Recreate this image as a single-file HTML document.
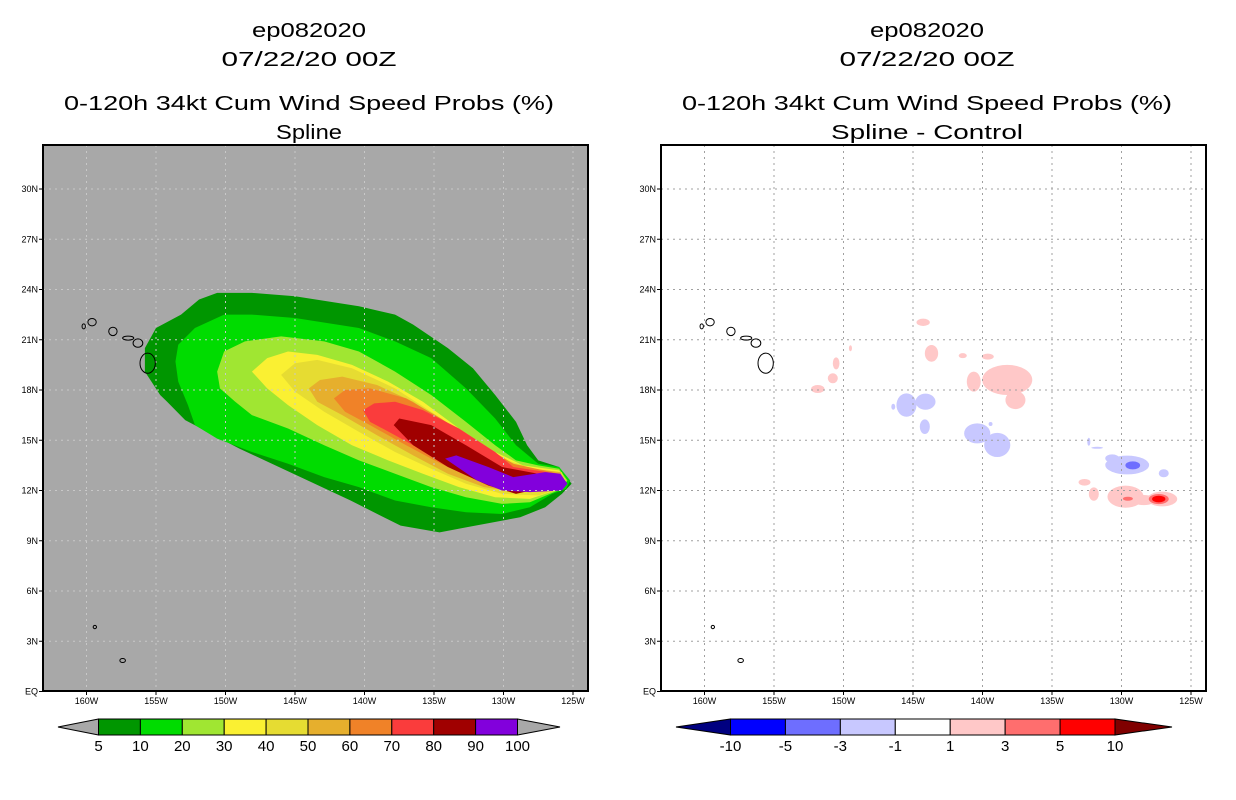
<!DOCTYPE html>
<html><head><meta charset="utf-8">
<style>
html,body{margin:0;padding:0;background:#fff;}
svg{display:block;font-family:"Liberation Sans",sans-serif;}
</style></head>
<body>
<svg id="chart" width="1236" height="800" viewBox="0 0 1236 800" xmlns="http://www.w3.org/2000/svg">
  <rect width="1236" height="800" fill="#fff"/>
  <g font-size="20" text-anchor="middle" fill="#000">
    <text x="309" y="37" textLength="114" lengthAdjust="spacingAndGlyphs">ep082020</text>
    <text x="309" y="66" textLength="175" lengthAdjust="spacingAndGlyphs">07/22/20 00Z</text>
    <text x="309" y="110" textLength="490" lengthAdjust="spacingAndGlyphs">0-120h 34kt Cum Wind Speed Probs (%)</text>
    <text x="309" y="139" textLength="66" lengthAdjust="spacingAndGlyphs">Spline</text>
  </g>
  <g font-size="20" text-anchor="middle" fill="#000">
    <text x="927" y="37" textLength="114" lengthAdjust="spacingAndGlyphs">ep082020</text>
    <text x="927" y="66" textLength="175" lengthAdjust="spacingAndGlyphs">07/22/20 00Z</text>
    <text x="927" y="110" textLength="490" lengthAdjust="spacingAndGlyphs">0-120h 34kt Cum Wind Speed Probs (%)</text>
    <text x="927" y="139" textLength="192" lengthAdjust="spacingAndGlyphs">Spline - Control</text>
  </g>
  <g id="leftPanel"></g>
  <g id="rightPanel"></g>
  <g id="leftBar"></g>
  <g id="rightBar"></g>
</svg>
<script>
const lonTicks = [-160,-155,-150,-145,-140,-135,-130,-125];
const lonTickLabels = ["160W","155W","150W","145W","140W","135W","130W","125W"];
const latTicks = [0,3,6,9,12,15,18,21,24,27,30];
const latTickLabels = ["EQ","3N","6N","9N","12N","15N","18N","21N","24N","27N","30N"];

const probLevels = [5,10,20,30,40,50,60,70,80,90];
const probColors = ["#009600","#00dc00","#a0e632","#faf032","#e6dc32","#e6af2d","#f08228","#fa3c3c","#a00000","#8200dc"];
const probLabels = ["5","10","20","30","40","50","60","70","80","90","100"];

const c5 = [[-155.8,20.5],[-155.0,21.7],[-153.2,22.5],[-151.9,23.4],[-150.6,23.8],[-148.1,23.8],[-145.0,23.6],[-140.4,23.0],[-137.8,22.5],[-136.5,21.9],[-134.0,20.5],[-132.2,19.3],[-130.6,17.7],[-129.1,16.1],[-128.3,14.7],[-127.5,13.8],[-126.0,13.4],[-125.1,12.4],[-125.8,11.8],[-127.0,11.0],[-128.8,10.4],[-132.7,9.8],[-134.6,9.5],[-137.4,9.9],[-141.0,11.4],[-144.6,12.8],[-149.0,14.5],[-152.9,16.2],[-154.2,17.3],[-154.7,17.7],[-155.8,19.1]];
const c10 = [[-153.4,20.7],[-152.2,21.7],[-150.1,22.5],[-148.1,22.5],[-145.0,22.3],[-140.4,21.7],[-137.8,20.9],[-135.2,19.9],[-132.7,18.1],[-130.6,16.3],[-129.1,14.7],[-127.5,13.6],[-126.0,13.4],[-125.2,12.6],[-125.5,12.1],[-126.5,11.8],[-128.1,11.0],[-130.1,10.6],[-132.7,10.7],[-135.2,11.0],[-137.8,11.4],[-140.4,12.2],[-142.9,12.8],[-145.5,13.6],[-148.1,14.3],[-150.6,15.1],[-152.2,15.9],[-152.7,17.1],[-153.4,18.5],[-153.6,19.7]];
const c20 = [[-150.6,19.1],[-150.1,20.3],[-148.6,20.9],[-146.0,21.2],[-142.9,20.9],[-140.4,20.3],[-137.8,19.1],[-135.2,17.7],[-132.7,16.1],[-130.6,14.7],[-129.1,13.8],[-127.5,13.5],[-126.0,13.3],[-125.4,12.6],[-125.8,12.1],[-128.1,11.3],[-130.1,11.2],[-132.7,11.6],[-135.2,12.2],[-137.8,13.0],[-140.4,13.8],[-142.9,14.7],[-145.5,15.7],[-148.1,16.5],[-149.3,17.3],[-150.4,18.1]];
const c30 = [[-148.1,19.1],[-147.0,19.9],[-145.5,20.3],[-143.4,20.1],[-140.9,19.5],[-138.3,18.5],[-135.8,17.3],[-133.2,15.7],[-130.6,14.3],[-128.6,13.5],[-126.0,13.2],[-125.5,12.6],[-125.9,12.1],[-128.1,11.5],[-130.6,11.6],[-133.2,12.2],[-135.8,13.0],[-138.3,13.8],[-140.9,14.7],[-143.4,15.9],[-145.5,17.1],[-147.0,18.1]];
const c40 = [[-146.0,18.9],[-145.0,19.6],[-143.4,19.8],[-140.9,19.3],[-137.8,18.1],[-135.2,16.7],[-132.7,15.3],[-130.1,13.9],[-127.5,13.2],[-125.8,13.1],[-125.6,12.6],[-126.0,12.1],[-127.5,11.7],[-130.1,11.8],[-132.7,12.4],[-135.2,13.3],[-137.8,14.3],[-140.4,15.5],[-142.9,16.7],[-145.0,17.9]];
const c50 = [[-144.0,18.1],[-143.2,18.6],[-141.6,18.8],[-139.1,18.3],[-136.5,17.3],[-134.0,15.9],[-131.4,14.5],[-128.8,13.4],[-125.9,13.1],[-125.8,12.6],[-126.1,12.2],[-128.8,11.9],[-131.4,12.2],[-134.0,13.0],[-136.5,14.1],[-139.1,15.3],[-141.6,16.5],[-143.4,17.3]];
const c60 = [[-142.2,17.5],[-141.4,18.0],[-139.6,18.1],[-137.0,17.5],[-134.5,16.3],[-131.9,14.9],[-129.3,13.6],[-126.0,13.0],[-125.9,12.6],[-126.3,12.2],[-129.3,12.1],[-131.9,12.6],[-134.5,13.6],[-137.0,14.7],[-139.6,15.9],[-141.4,16.7]];
const c70 = [[-140.1,16.8],[-139.3,17.2],[-137.8,17.3],[-135.8,16.8],[-133.2,15.7],[-130.6,14.3],[-129.3,13.4],[-126.1,13.0],[-126.0,12.6],[-126.4,12.2],[-130.1,12.2],[-132.7,13.0],[-135.2,14.1],[-137.8,15.3],[-139.6,16.1]];
const c80 = [[-137.9,15.9],[-137.5,16.3],[-135.2,15.9],[-132.7,14.7],[-130.1,13.4],[-127.5,13.0],[-126.3,13.0],[-126.1,12.6],[-126.5,12.3],[-129.1,11.8],[-131.1,12.3],[-134.0,13.4],[-136.5,14.7]];
const c90 = [[-134.2,13.9],[-133.4,14.1],[-131.1,13.4],[-129.3,12.8],[-127.0,13.1],[-125.9,13.0],[-125.4,12.4],[-125.8,12.0],[-128.1,11.9],[-130.1,12.0],[-131.9,12.6]];
const probContours = [c5,c10,c20,c30,c40,c50,c60,c70,c80,c90];

const islandLon = [-160.2,-159.6,-158.1,-157.0,-156.3,-155.6,-159.4,-157.4];
const islandLat = [21.8,22.05,21.5,21.1,20.8,19.6,3.85,1.85];
const islandRx = [0.12,0.3,0.3,0.4,0.35,0.55,0.12,0.2];
const islandRy = [0.15,0.22,0.25,0.12,0.25,0.6,0.1,0.12];

const diffLevels = [-10,-5,-3,-1,1,3,5,10];
const diffColors = ["#0000ff","#6e6eff","#c8c8ff","#ffffff","#ffc8c8","#ff6e6e","#ff0000"];
const diffLabels = ["-10","-5","-3","-1","1","3","5","10"];
const blobLon = [-144.27,-143.67,-141.42,-139.62,-138.22,-137.63,-140.63,-150.53,-150.77,-151.85,-149.5,-132.66,-131.99,-129.71,-127.07,-128.4,-145.47,-144.1,-144.15,-140.38,-138.94,-139.42,-146.42,-129.59,-130.67,-126.96,-132.35,-131.75,-129.19,-129.54,-127.32,-127.32];
const blobLat = [22.04,20.19,20.05,19.99,18.6,17.4,18.5,19.59,18.7,18.06,20.49,12.49,11.79,11.63,11.49,11.43,17.1,17.3,15.81,15.41,14.72,15.97,17.0,13.52,13.92,13.03,14.91,14.55,13.5,11.51,11.49,11.49];
const blobRx = [0.48,0.48,0.29,0.43,1.8,0.72,0.5,0.24,0.36,0.48,0.11,0.43,0.36,1.3,1.08,0.86,0.72,0.72,0.36,0.94,0.94,0.14,0.14,1.58,0.5,0.36,0.11,0.43,0.53,0.36,0.72,0.48];
const blobRy = [0.22,0.5,0.15,0.18,0.9,0.54,0.6,0.36,0.3,0.24,0.18,0.2,0.4,0.66,0.44,0.3,0.7,0.48,0.44,0.6,0.72,0.12,0.18,0.56,0.24,0.24,0.24,0.06,0.24,0.12,0.3,0.2];
const blobValue = [2,2,2,2,2,2,2,2,2,2,2,2,2,2,2,2,-2,-2,-2,-2,-2,-2,-2,-2,-2,-2,-2,-2,-4,4,4,7];

const NS = "http://www.w3.org/2000/svg";
const PX_LEFT = 43, PX_RIGHT = 588, PY_TOP = 145, PY_BOT = 691;
const LON0 = -160, X0 = 86.5, XPD = 13.9, YPD = 16.75, Y0 = 691.5;
function X(lon, off){ return off + X0 + (lon - LON0) * XPD; }
function Y(lat){ return Y0 - lat * YPD; }
function mk(tag, attrs, parent){ const e = document.createElementNS(NS, tag); for (const k in attrs) e.setAttribute(k, attrs[k]); parent.appendChild(e); return e; }
function colorFor(v){ for (let i = 0; i < diffLevels.length - 1; i++){ if (v >= diffLevels[i] && v < diffLevels[i+1]) return diffColors[i]; } return v < 0 ? "#000080" : "#800000"; }

function drawPanel(g, off, bg, gridColor, drawContent){
  const clipId = "clip" + off;
  const defs = mk("defs", {}, g);
  const cp = mk("clipPath", {id: clipId}, defs);
  mk("rect", {x: PX_LEFT+off, y: PY_TOP, width: PX_RIGHT-PX_LEFT, height: PY_BOT-PY_TOP}, cp);
  const bgR = mk("rect", {x: PX_LEFT+off, y: PY_TOP, width: PX_RIGHT-PX_LEFT, height: PY_BOT-PY_TOP, fill: bg}, g);
  
  
  const content = mk("g", {"clip-path": "url(#" + clipId + ")"}, g);
  drawContent(content);
  const grid = mk("g", {stroke: gridColor, "stroke-width": 1, "stroke-dasharray": "2 4"}, content);
  
  
  lonTicks.forEach(lon => { mk("line", {x1: X(lon, off), x2: X(lon, off), y1: PY_TOP, y2: PY_BOT}, grid); });
  latTicks.forEach(lat => { mk("line", {x1: PX_LEFT+off, x2: PX_RIGHT+off, y1: Y(lat), y2: Y(lat)}, grid); });
  const isl = mk("g", {fill: "none", stroke: "#000", "stroke-width": 1}, content);
  
  
  islandLon.forEach((lon, i) => {
    const e = mk("ellipse", {cx: X(lon, off), cy: Y(islandLat[i]), rx: islandRx[i]*XPD, ry: islandRy[i]*YPD}, isl);
    
    
  });
  const fr = mk("rect", {x: PX_LEFT+off, y: PY_TOP, width: PX_RIGHT-PX_LEFT, height: PY_BOT-PY_TOP, fill: "none", stroke: "#000", "stroke-width": 2}, g);
  
  
  const ax = mk("g", {"font-size": 9, fill: "#000"}, g);
  
  
  lonTicks.forEach((lon, i) => {
    const t = mk("text", {x: X(lon, off), y: 704, "text-anchor": "middle"}, ax);
    t.textContent = lonTickLabels[i];
    
    
    mk("line", {x1: X(lon, off), x2: X(lon, off), y1: PY_BOT, y2: PY_BOT+4, stroke: "#000"}, ax);
  });
  latTicks.forEach((lat, i) => {
    const t = mk("text", {x: PX_LEFT+off-5, y: Y(lat)+3, "text-anchor": "end"}, ax);
    t.textContent = latTickLabels[i];
    
    
    mk("line", {x1: PX_LEFT+off-4, x2: PX_LEFT+off, y1: Y(lat), y2: Y(lat), stroke: "#000"}, ax);
  });
}

drawPanel(document.getElementById("leftPanel"), 0, "#a8a8a8", "#c8c8c8", content => {
  probContours.forEach((poly, i) => {
    const p = mk("polygon", {points: poly.map(q => X(q[0], 0) + "," + Y(q[1])).join(" "), fill: probColors[i]}, content);
    
    
  });
});

drawPanel(document.getElementById("rightPanel"), 618, "#ffffff", "#a0a0a0", content => {
  const order = blobValue.map((v, i) => i).sort((a, b) => Math.abs(blobValue[a]) - Math.abs(blobValue[b]));
  order.forEach(i => {
    const e = mk("ellipse", {cx: X(blobLon[i], 618), cy: Y(blobLat[i]), rx: blobRx[i]*XPD, ry: blobRy[i]*YPD, fill: colorFor(blobValue[i])}, content);
    
    
  });
});

function drawBar(g, x0, x1, tipL, tipR, colors, labels, lowColor, highColor, name){
  const y0 = 719, y1 = 735, ym = 727;
  const n = colors.length, w = (x1 - x0) / n;
  const tl = mk("polygon", {points: `${tipL},${ym} ${x0},${y0} ${x0},${y1}`, fill: lowColor, stroke: "#000", "stroke-width": 1}, g);
  
  
  const tr = mk("polygon", {points: `${tipR},${ym} ${x1},${y0} ${x1},${y1}`, fill: highColor, stroke: "#000", "stroke-width": 1}, g);
  
  
  colors.forEach((c, i) => {
    const r = mk("rect", {x: x0 + i*w, y: y0, width: w, height: y1-y0, fill: c, stroke: "#000", "stroke-width": 1}, g);
    
    
  });
  labels.forEach((l, i) => {
    const t = mk("text", {x: x0 + i*w, y: 751, "text-anchor": "middle", "font-size": 15, fill: "#000"}, g);
    t.textContent = l;
    
    
  });
}
drawBar(document.getElementById("leftBar"), 98.5, 517.5, 58, 560, probColors, probLabels, "#a8a8a8", "#a8a8a8", "prob-colorbar");
drawBar(document.getElementById("rightBar"), 730.5, 1115, 676, 1172, diffColors, diffLabels, "#000080", "#800000", "diff-colorbar");
</script>
</body></html>
